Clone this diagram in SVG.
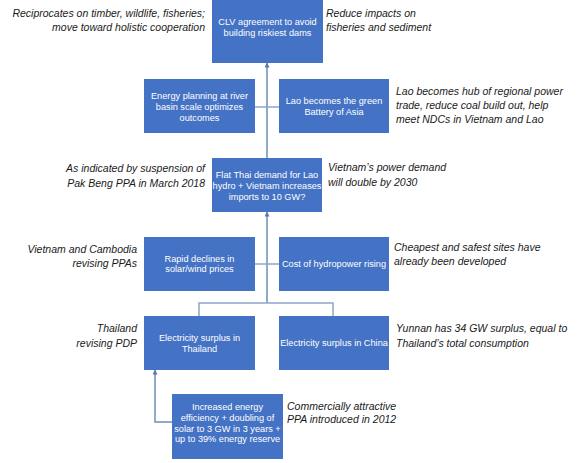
<svg xmlns="http://www.w3.org/2000/svg" width="586" height="463" viewBox="0 0 586 463">
<defs>
<marker id="ah" viewBox="0 0 10 10" refX="9" refY="5" markerWidth="5" markerHeight="5" orient="auto" markerUnits="userSpaceOnUse">
<path d="M0,0 L10,5 L0,10 z" fill="#5a7aa8"/>
</marker>
<style>
.box{fill:#4472c4;}
.bt{font-family:"Liberation Sans",Arial,sans-serif;font-size:9.2px;fill:#ffffff;text-anchor:middle;}
.it{font-family:"Liberation Sans",Arial,sans-serif;font-size:10.5px;font-style:italic;fill:#1a1a1a;}
.r{text-anchor:end;}
.c{fill:none;stroke:#8ea6c8;stroke-width:1.5;}
.a{fill:none;stroke:#6f8db8;stroke-width:1.5;marker-end:url(#ah);}
</style>
</defs>
<rect width="586" height="463" fill="#ffffff"/>

<g id="connectors">
<path class="a" d="M267,158 L267,63"/>
<path class="c" d="M255,107 L279,107"/>
<path class="a" d="M267,303 L267,212"/>
<path class="c" d="M255,264 L279,264"/>
<path class="c" d="M199,316 L199,303 L333,303 L333,316"/>
<path class="a" d="M172,422 L155,422 L155,370"/>
</g>

<g id="clv">
<rect class="box" x="212" y="-10" width="111" height="73"/>
<text class="bt" x="267.5" y="24.5">CLV agreement to avoid</text>
<text class="bt" x="267.5" y="36">building riskiest dams</text>
</g>
<g id="energy-planning">
<rect class="box" x="144" y="79" width="111" height="54"/>
<text class="bt" x="199.5" y="98.5">Energy planning at river</text>
<text class="bt" x="199.5" y="109.5">basin scale optimizes</text>
<text class="bt" x="199.5" y="120.5">outcomes</text>
</g>
<g id="lao-battery">
<rect class="box" x="279" y="79" width="110" height="54"/>
<text class="bt" x="334" y="103.5">Lao becomes the green</text>
<text class="bt" x="334" y="114.5">Battery of Asia</text>
</g>
<g id="flat-thai">
<rect class="box" x="212" y="158" width="110" height="54"/>
<text class="bt" x="267" y="177.5">Flat Thai demand for Lao</text>
<text class="bt" x="267" y="188.5">hydro + Vietnam increases</text>
<text class="bt" x="267" y="199.5">imports to 10 GW?</text>
</g>
<g id="rapid-declines">
<rect class="box" x="144" y="237" width="111" height="54"/>
<text class="bt" x="199.5" y="261.5">Rapid declines in</text>
<text class="bt" x="199.5" y="272">solar/wind prices</text>
</g>
<g id="cost-hydro">
<rect class="box" x="279" y="237" width="110" height="54"/>
<text class="bt" x="334" y="266.5">Cost of hydropower  rising</text>
</g>
<g id="surplus-thailand">
<rect class="box" x="144" y="316" width="111" height="54"/>
<text class="bt" x="199.5" y="340.5">Electricity surplus in</text>
<text class="bt" x="199.5" y="351.5">Thailand</text>
</g>
<g id="surplus-china">
<rect class="box" x="279" y="316" width="110" height="54"/>
<text class="bt" x="334" y="345.5">Electricity surplus in China</text>
</g>
<g id="efficiency">
<rect class="box" x="172" y="394" width="111" height="65"/>
<text class="bt" x="227.5" y="409.5">Increased energy</text>
<text class="bt" x="227.5" y="420.5">efficiency + doubling  of</text>
<text class="bt" x="227.5" y="431.5">solar to  3 GW in 3 years +</text>
<text class="bt" x="227.5" y="442">up to  39% energy reserve</text>
</g>

<g id="annotations">
<text class="it r" x="205" y="17">Reciprocates on timber, wildlife, fisheries;</text>
<text class="it r" x="205" y="31">move toward holistic cooperation</text>
<text class="it" x="326" y="17">Reduce impacts on</text>
<text class="it" x="326" y="31">fisheries and sediment</text>
<text class="it" x="396" y="95">Lao becomes hub of regional power</text>
<text class="it" x="396" y="109">trade, reduce coal build out, help</text>
<text class="it" x="396" y="123">meet NDCs in Vietnam and Lao</text>
<text class="it r" x="205" y="172">As indicated by suspension of</text>
<text class="it r" x="205" y="187">Pak Beng PPA in March 2018</text>
<text class="it" x="328" y="171">Vietnam’s power demand</text>
<text class="it" x="328" y="186">will double by 2030</text>
<text class="it r" x="137" y="253">Vietnam and Cambodia</text>
<text class="it r" x="137" y="267">revising PPAs</text>
<text class="it" x="394" y="251">Cheapest and safest sites have</text>
<text class="it" x="394" y="265">already been developed</text>
<text class="it r" x="137" y="332">Thailand</text>
<text class="it r" x="137" y="347">revising PDP</text>
<text class="it" x="396" y="332">Yunnan has 34 GW surplus, equal to</text>
<text class="it" x="396" y="347">Thailand’s total consumption</text>
<text class="it" x="287" y="410">Commercially attractive</text>
<text class="it" x="287" y="423">PPA introduced in 2012</text>
</g>
</svg>
